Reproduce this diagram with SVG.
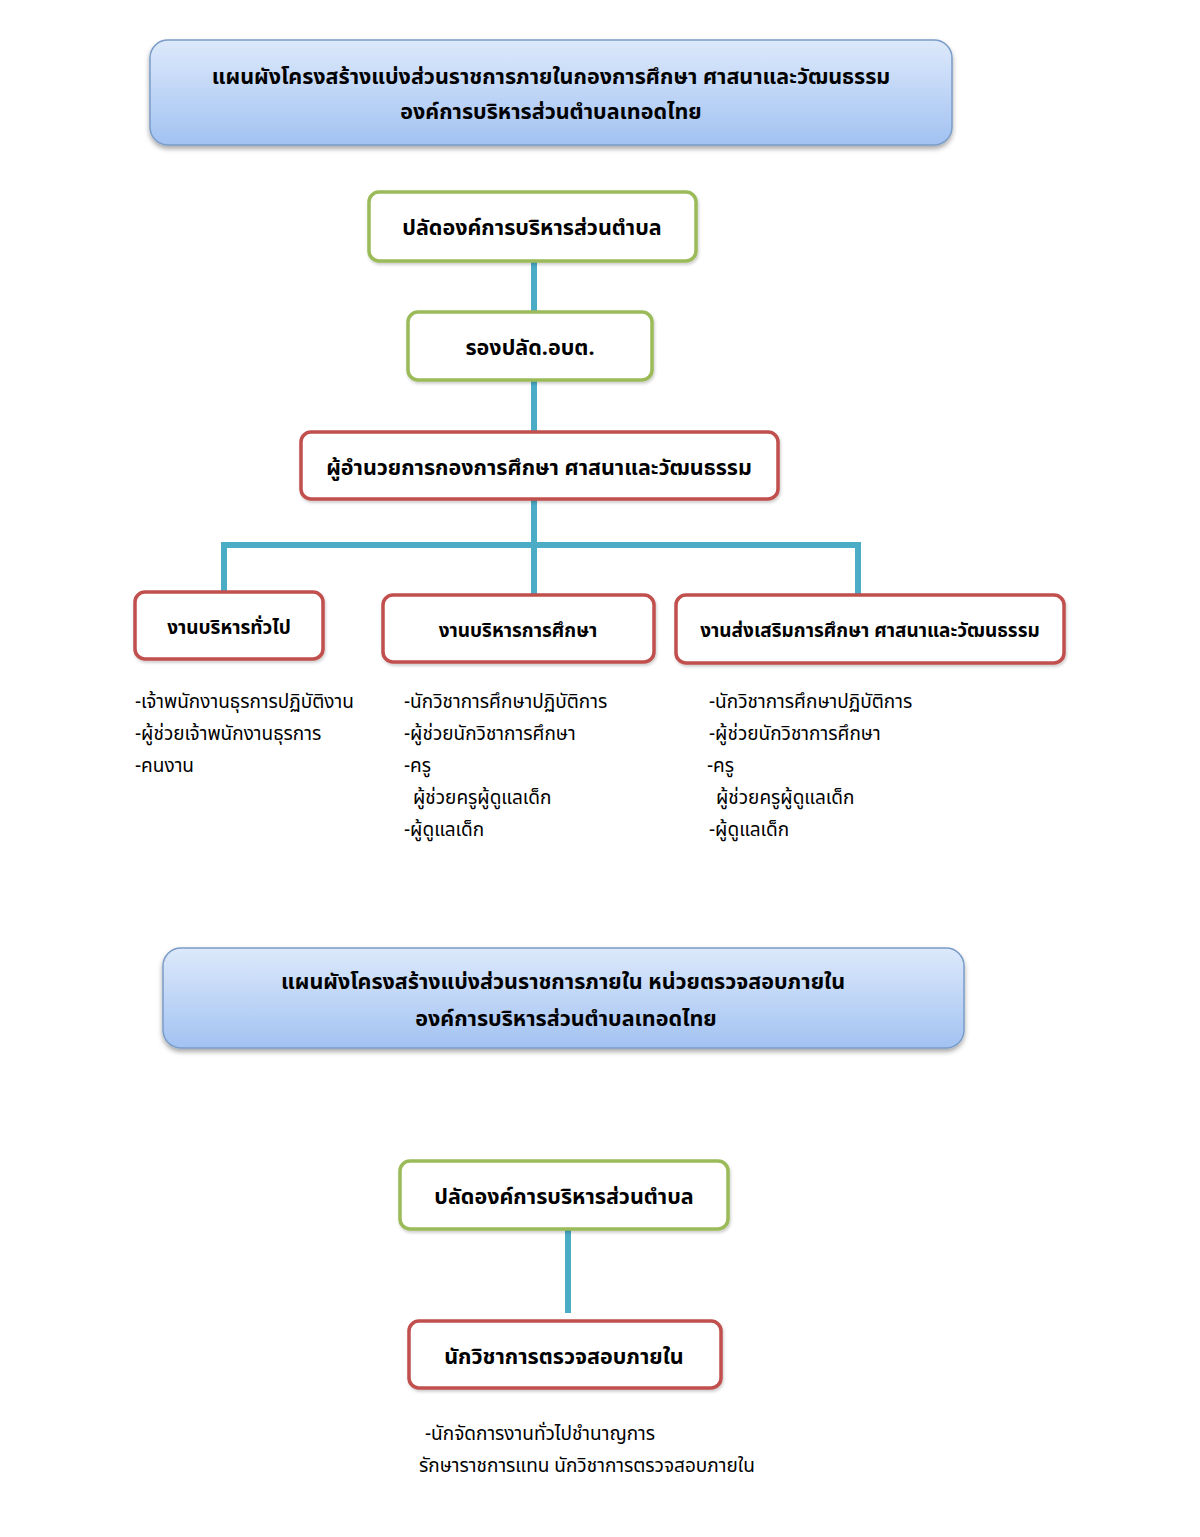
<svg xmlns="http://www.w3.org/2000/svg" width="1200" height="1537" viewBox="0 0 1200 1537">
<defs>
<linearGradient id="blueGrad" x1="0" y1="0" x2="0" y2="1">
<stop offset="0" stop-color="#dde9fb"/>
<stop offset="1" stop-color="#a2c2f2"/>
</linearGradient>
<filter id="shadow" x="-5%" y="-10%" width="110%" height="130%">
<feDropShadow dx="0" dy="3" stdDeviation="2.5" flood-color="#000" flood-opacity="0.35"/>
</filter>
<filter id="soft" x="-5%" y="-10%" width="110%" height="130%">
<feDropShadow dx="1" dy="2" stdDeviation="1.5" flood-color="#000" flood-opacity="0.2"/>
</filter>
</defs>
<style>
text { font-family: "Noto Sans Thai", "Noto Sans", "DejaVu Sans", sans-serif; fill: #000; }
.title { fill: url(#blueGrad); stroke: #7a9cc8; stroke-width: 1.5; filter: url(#shadow); }
.green { fill: #fff; stroke: #9bbb59; stroke-width: 3.5; filter: url(#soft); }
.red { fill: #fff; stroke: #c0504d; stroke-width: 3.5; filter: url(#soft); }
.tt { font-size: 21.5px; font-weight: bold; text-anchor: middle; }
.bt { font-size: 21.5px; font-weight: bold; text-anchor: middle; }
.st { font-size: 19px; font-weight: bold; text-anchor: middle; }
.lt { font-size: 19px; }
.conn { stroke: #4bacc6; stroke-width: 6; fill: none; }
</style>
<rect width="1200" height="1537" fill="#fff"/>

<g id="title1">
<rect class="title" x="150" y="40" width="802" height="105" rx="18"/>
<text class="tt" x="551" y="84">แผนผังโครงสร้างแบ่งส่วนราชการภายในกองการศึกษา ศาสนาและวัฒนธรรม</text>
<text class="tt" x="551" y="119">องค์การบริหารส่วนตำบลเทอดไทย</text>
</g>

<g id="connectors">
<line class="conn" x1="534" y1="261" x2="534" y2="312"/>
<line class="conn" x1="534" y1="380" x2="534" y2="432"/>
<line class="conn" x1="534" y1="499" x2="534" y2="595"/>
<polyline class="conn" points="224,592 224,545 858,545 858,596"/>
<line class="conn" x1="568" y1="1229" x2="568" y2="1313"/>
</g>

<g id="node-palad">
<rect class="green" x="369" y="192" width="327" height="69" rx="10"/>
<text class="bt" x="532" y="235">ปลัดองค์การบริหารส่วนตำบล</text>
</g>
<g id="node-rongpalad">
<rect class="green" x="408" y="312" width="244" height="68" rx="10"/>
<text class="bt" x="530" y="355">รองปลัด.อบต.</text>
</g>
<g id="node-director">
<rect class="red" x="301" y="432" width="477" height="67" rx="10"/>
<text class="bt" x="539" y="475">ผู้อำนวยการกองการศึกษา ศาสนาและวัฒนธรรม</text>
</g>
<g id="node-general">
<rect class="red" x="135" y="592" width="188" height="67" rx="10"/>
<text class="st" x="229" y="634">งานบริหารทั่วไป</text>
</g>
<g id="node-edu">
<rect class="red" x="383" y="595" width="271" height="67" rx="10"/>
<text class="st" x="518" y="637">งานบริหารการศึกษา</text>
</g>
<g id="node-promote">
<rect class="red" x="676" y="595" width="388" height="68" rx="10"/>
<text class="st" x="870" y="637">งานส่งเสริมการศึกษา ศาสนาและวัฒนธรรม</text>
</g>

<g id="list-general">
<text class="lt" x="135" y="708">-เจ้าพนักงานธุรการปฏิบัติงาน</text>
<text class="lt" x="135" y="740">-ผู้ช่วยเจ้าพนักงานธุรการ</text>
<text class="lt" x="135" y="772">-คนงาน</text>
</g>
<g id="list-edu">
<text class="lt" x="404" y="708">-นักวิชาการศึกษาปฏิบัติการ</text>
<text class="lt" x="404" y="740">-ผู้ช่วยนักวิชาการศึกษา</text>
<text class="lt" x="404" y="772">-ครู</text>
<text class="lt" x="413" y="804">ผู้ช่วยครูผู้ดูแลเด็ก</text>
<text class="lt" x="404" y="836">-ผู้ดูแลเด็ก</text>
</g>
<g id="list-promote">
<text class="lt" x="709" y="708">-นักวิชาการศึกษาปฏิบัติการ</text>
<text class="lt" x="709" y="740">-ผู้ช่วยนักวิชาการศึกษา</text>
<text class="lt" x="707" y="772">-ครู</text>
<text class="lt" x="716" y="804">ผู้ช่วยครูผู้ดูแลเด็ก</text>
<text class="lt" x="709" y="836">-ผู้ดูแลเด็ก</text>
</g>

<g id="title2">
<rect class="title" x="163" y="948" width="801" height="100" rx="18"/>
<text class="tt" x="563" y="989">แผนผังโครงสร้างแบ่งส่วนราชการภายใน หน่วยตรวจสอบภายใน</text>
<text class="tt" x="566" y="1026">องค์การบริหารส่วนตำบลเทอดไทย</text>
</g>

<g id="node-palad2">
<rect class="green" x="400" y="1161" width="328" height="68" rx="10"/>
<text class="bt" x="564" y="1204">ปลัดองค์การบริหารส่วนตำบล</text>
</g>
<g id="node-audit">
<rect class="red" x="409" y="1321" width="312" height="67" rx="10"/>
<text class="bt" x="564" y="1364">นักวิชาการตรวจสอบภายใน</text>
</g>
<g id="list-audit">
<text class="lt" x="425" y="1440">-นักจัดการงานทั่วไปชำนาญการ</text>
<text class="lt" x="419" y="1472">รักษาราชการแทน นักวิชาการตรวจสอบภายใน</text>
</g>
</svg>
